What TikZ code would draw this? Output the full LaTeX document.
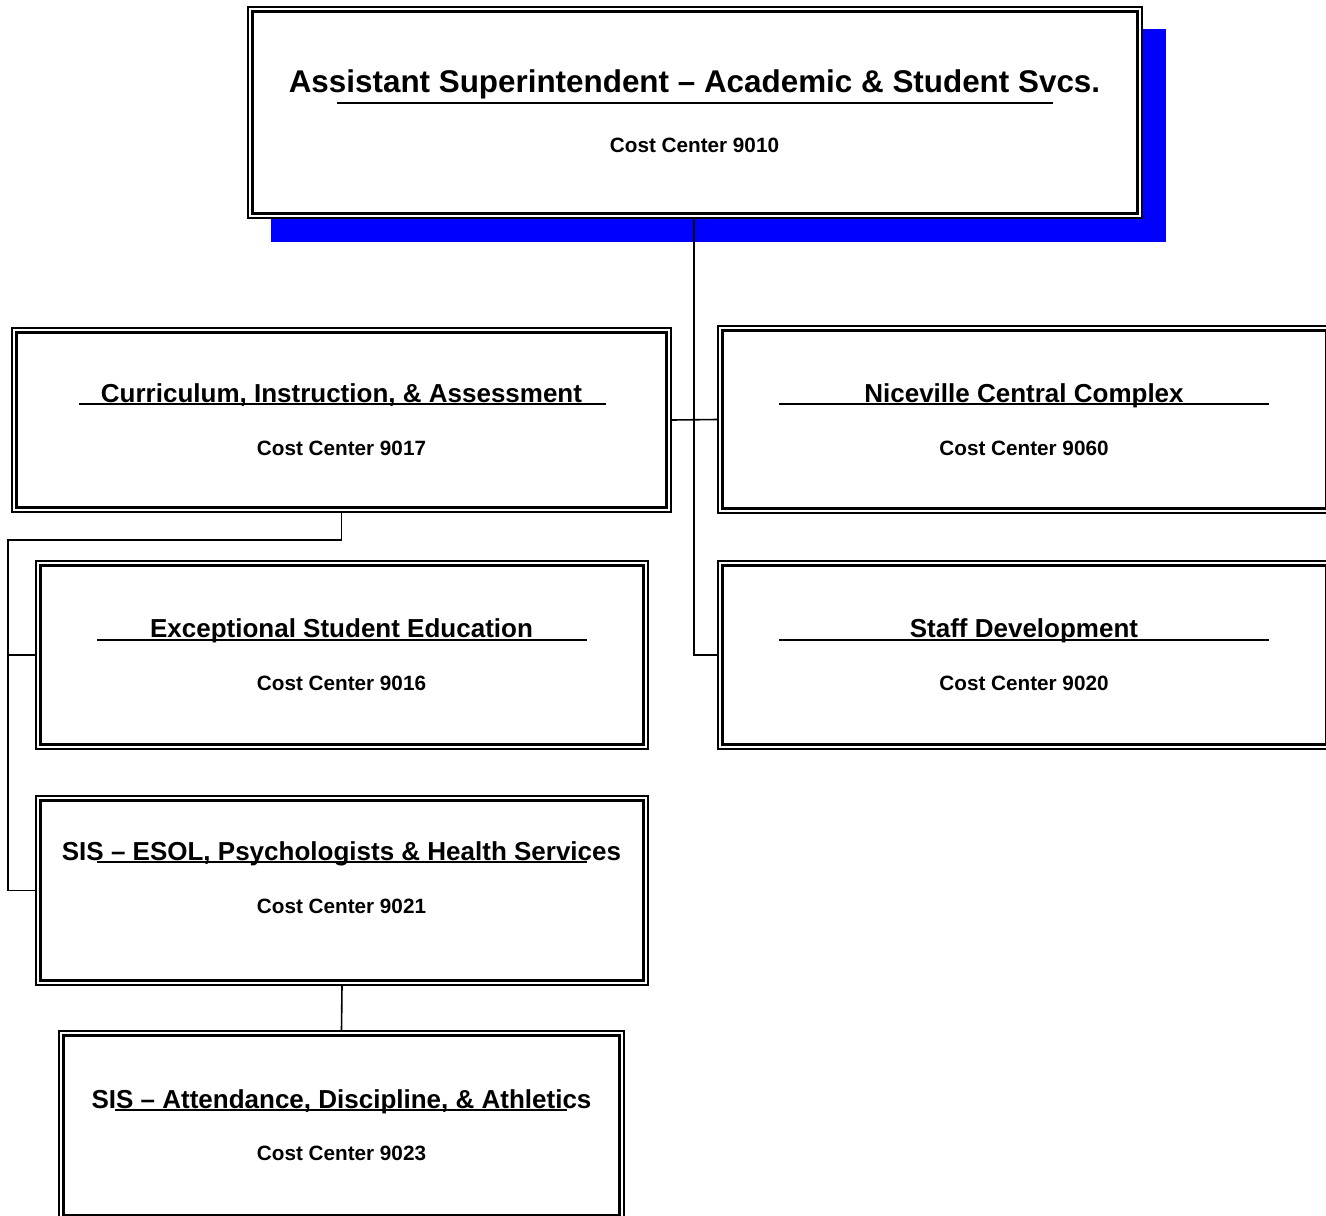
\documentclass[tikz,border=0pt]{standalone}
\usepackage{fontspec}
\setmainfont{Liberation Sans}
\definecolor{shadowblue}{RGB}{0,0,255}
\tikzset{
  outerbox/.style={draw, line width=1.4pt, inner sep=0pt, fill=white},
  innerline/.style={line width=2.5pt},
  conn/.style={line width=1.6pt},
  uline/.style={line width=2pt},
  bigtitle/.style={anchor=base, inner sep=0pt, font=\fontsize{31.4}{36}\selectfont\bfseries},
  boxtitle/.style={anchor=base, inner sep=0pt, font=\fontsize{26}{30}\selectfont\bfseries},
  costtext/.style={anchor=base, inner sep=0pt, font=\fontsize{20.7}{24}\selectfont\bfseries},
}
\newcommand\innerbox[1]{\draw[innerline] ([shift={(5,5)}]#1.north west) rectangle ([shift={(-5,-5)}]#1.south east);}
\begin{document}
\begin{tikzpicture}[x=1pt,y=-1pt]
\useasboundingbox (0,0) rectangle (1326,1216);
% shadow
\fill[shadowblue] (271,29) rectangle (1166,242);
% boxes
\node[outerbox, minimum width=894pt, minimum height=211pt] (top) at (695,112.5) {};
\node[outerbox, minimum width=659pt, minimum height=184pt] (cia) at (341.5,420) {};
\node[outerbox, minimum width=613pt, minimum height=187pt] (ncc) at (1024.5,419.5) {};
\node[outerbox, minimum width=612pt, minimum height=188pt] (ese) at (342,655) {};
\node[outerbox, minimum width=613pt, minimum height=188pt] (sd) at (1024.5,655) {};
\node[outerbox, minimum width=612pt, minimum height=189pt] (sis1) at (342,890.5) {};
\node[outerbox, minimum width=565pt, minimum height=189pt] (sis2) at (341.5,1125.5) {};
\innerbox{top}
\innerbox{cia}
\innerbox{ncc}
\innerbox{ese}
\innerbox{sd}
\innerbox{sis1}
\innerbox{sis2}
% connectors
\coordinate (bus) at (8,540);
\coordinate (tb) at (694,218);
\draw[conn] (tb) |- (sd.west);
\draw[conn] (cia.east) -- (ncc.west);
\draw[conn] (cia.south) |- (bus) |- (sis1.west);
\draw[conn] (bus |- ese.west) -- (ese.west);
\draw[conn] (sis1.south) -- (sis2.north);
% texts
\node[bigtitle] (t0) at (694.5,92.7) {Assistant Superintendent – Academic \& Student Svcs.};
\node[costtext] (c0) at (694.5,152) {Cost Center 9010};
\draw[uline] (337,102.5) -- (1053,102.5);

\node[boxtitle] (t1) at (341.5,402) {Curriculum, Instruction, \& Assessment};
\node[costtext] (c1) at (341.5,455) {Cost Center 9017};
\draw[uline] (79,404) -- (606,404);

\node[boxtitle] (t2) at (1024,402) {Niceville Central Complex};
\node[costtext] (c2) at (1024,455) {Cost Center 9060};
\draw[uline] (779,404) -- (1269,404);

\node[boxtitle] (t3) at (341.5,637) {Exceptional Student Education};
\node[costtext] (c3) at (341.5,690) {Cost Center 9016};
\draw[uline] (97,639.5) -- (587,639.5);

\node[boxtitle] (t4) at (1024,637) {Staff Development};
\node[costtext] (c4) at (1024,690) {Cost Center 9020};
\draw[uline] (779,639.5) -- (1269,639.5);

\node[boxtitle] (t5) at (341.5,860) {SIS – ESOL, Psychologists \& Health Services};
\node[costtext] (c5) at (341.5,913) {Cost Center 9021};
\draw[uline] (97,862) -- (587,862);

\node[boxtitle] (t6) at (341.5,1108) {SIS – Attendance, Discipline, \& Athletics};
\node[costtext] (c6) at (341.5,1160) {Cost Center 9023};
\draw[uline] (115,1110) -- (567,1110);
\end{tikzpicture}
\end{document}
